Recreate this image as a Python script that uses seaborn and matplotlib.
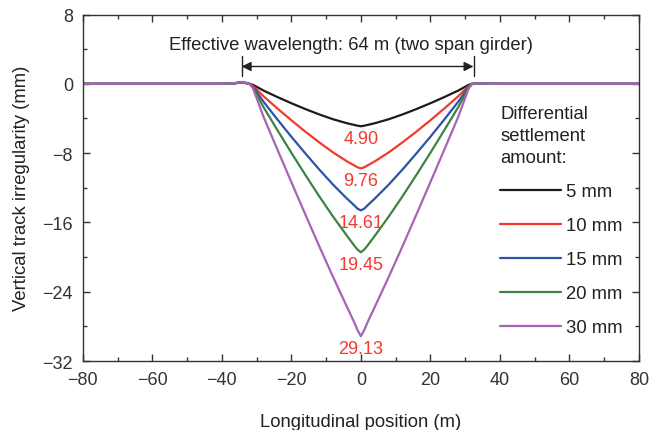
import numpy as np
import pandas as pd
import matplotlib
matplotlib.use("Agg")
import matplotlib.pyplot as plt
import seaborn as sns
from matplotlib.ticker import MultipleLocator

# Longitudinal positions (m)
positions = [-80, -40, -38, -36, -34.3, -33, -32, -31, -28, -24, -20, -16, -12, -8, -4, -2, -1, 0,
             1, 2, 4, 8, 12, 16, 20, 24, 28, 31, 32, 33, 34.5, 36, 40, 80]

# Vertical track irregularity (mm) for each settlement amount
irr_5 = [0, 0, 0.02, 0.08, 0.18, 0.1, 0, -0.12, -0.78, -1.53, -2.24, -2.91, -3.53, -4.09, -4.55, -4.74, -4.83, -4.90,
         -4.83, -4.74, -4.55, -4.09, -3.53, -2.91, -2.24, -1.53, -0.78, -0.12, 0, 0.05, 0.06, 0.02, 0, 0]
irr_10 = [0, 0, 0.02, 0.08, 0.18, 0.1, 0, -0.25, -1.44, -2.85, -4.21, -5.51, -6.75, -7.92, -8.95, -9.40, -9.63, -9.76,
          -9.63, -9.40, -8.95, -7.92, -6.75, -5.51, -4.21, -2.85, -1.44, -0.25, 0, 0.05, 0.06, 0.02, 0, 0]
irr_15 = [0, 0, 0.02, 0.08, 0.18, 0.08, 0, -0.35, -2.07, -4.12, -6.11, -8.02, -9.88, -11.64, -13.25, -14.00, -14.40, -14.61,
          -14.40, -14.00, -13.25, -11.64, -9.88, -8.02, -6.11, -4.12, -2.07, -0.35, 0, 0.05, 0.06, 0.02, 0, 0]
irr_20 = [0, 0, 0.02, 0.08, 0.18, 0.06, 0, -0.45, -2.70, -5.35, -7.96, -10.50, -12.97, -15.33, -17.55, -18.62, -19.12, -19.45,
          -19.12, -18.62, -17.55, -15.33, -12.97, -10.50, -7.96, -5.35, -2.70, -0.45, 0, 0.05, 0.06, 0.02, 0, 0]
irr_30 = [0, 0, 0.02, 0.1, 0.22, 0.05, 0, -0.55, -3.82, -7.60, -11.35, -15.06, -18.73, -22.30, -25.75, -27.45, -28.40, -29.13,
          -28.40, -27.45, -25.75, -22.30, -18.73, -15.06, -11.35, -7.60, -3.82, -0.55, 0, 0.05, 0.06, 0.02, 0, 0]

series_labels = ["5 mm", "10 mm", "15 mm", "20 mm", "30 mm"]
series_values = [irr_5, irr_10, irr_15, irr_20, irr_30]
peak_labels = ["4.90", "9.76", "14.61", "19.45", "29.13"]
peak_values = [-4.90, -9.76, -14.61, -19.45, -29.13]
colors = ["#1c1c1c", "#f23a2e", "#2d52a8", "#3b8443", "#a763b5"]

df = pd.concat([
    pd.DataFrame({"x": positions, "y": vals, "amount": lab})
    for lab, vals in zip(series_labels, series_values)
], ignore_index=True)

sns.set_theme(style="ticks")
plt.rcParams["font.family"] = ["Liberation Sans", "DejaVu Sans"]
plt.rcParams["text.color"] = "#222222"
plt.rcParams["axes.labelcolor"] = "#222222"
plt.rcParams["xtick.color"] = "#333333"
plt.rcParams["ytick.color"] = "#333333"

fig = plt.figure(figsize=(6.52, 4.31), dpi=100)
ax = fig.add_axes([0.127, 0.160, 0.853, 0.804])

sns.lineplot(data=df, x="x", y="y", hue="amount", palette=colors,
             hue_order=series_labels, linewidth=1.6, ax=ax, sort=False,
             estimator=None)

for lab, v in zip(peak_labels, peak_values):
    ax.text(0, v - 0.4, lab, color="#f23a2e", fontsize=13, ha="center", va="top")

# Effective wavelength arrow
ax.annotate("", xy=(-34.3, 2.0), xytext=(32.4, 2.0),
            arrowprops=dict(arrowstyle="<|-|>", color="#222222", lw=1.0,
                            shrinkA=0, shrinkB=0, mutation_scale=14))
ax.plot([-34.3, -34.3], [0.85, 3.2], color="#222222", lw=1.0)
ax.plot([32.4, 32.4], [0.85, 3.2], color="#222222", lw=1.0)
ax.text(-2.7, 4.5, "Effective wavelength: 64 m (two span girder)", fontsize=13.3,
        ha="center", va="center")

ax.set_xlim(-80, 80)
ax.set_ylim(-32, 8)
ax.xaxis.set_major_locator(MultipleLocator(20))
ax.xaxis.set_minor_locator(MultipleLocator(10))
ax.yaxis.set_major_locator(MultipleLocator(8))
ax.yaxis.set_minor_locator(MultipleLocator(4))
ax.set_xticklabels([("\u2212" + str(int(-t))) if t < 0 else str(int(t)) for t in ax.get_xticks()])
ax.set_yticklabels([("\u2212" + str(int(-t))) if t < 0 else str(int(t)) for t in ax.get_yticks()])
ax.tick_params(which="both", direction="in", top=True, right=True, labelsize=13, pad=7)
ax.tick_params(which="major", length=5, width=1)
ax.tick_params(which="minor", length=3, width=1)
for s in ax.spines.values():
    s.set_color("#333333")
    s.set_linewidth(1.0)

ax.set_xlabel("Longitudinal position (m)", fontsize=13.3, labelpad=18)
ax.set_ylabel("Vertical track irregularity (mm)", fontsize=13.3, labelpad=9)

leg = ax.legend(loc="upper left", bbox_to_anchor=(0.737, 0.760), frameon=False,
                title="Differential\nsettlement\namount:", fontsize=13.3, title_fontsize=13.3,
                labelspacing=0.92, handlelength=3.3, handletextpad=0.25, borderaxespad=0)
leg._legend_box.align = "left"
leg.get_title().set_linespacing(1.4)
for line in leg.get_lines():
    line.set_linewidth(1.6)

fig.savefig("out.png", dpi=100)
